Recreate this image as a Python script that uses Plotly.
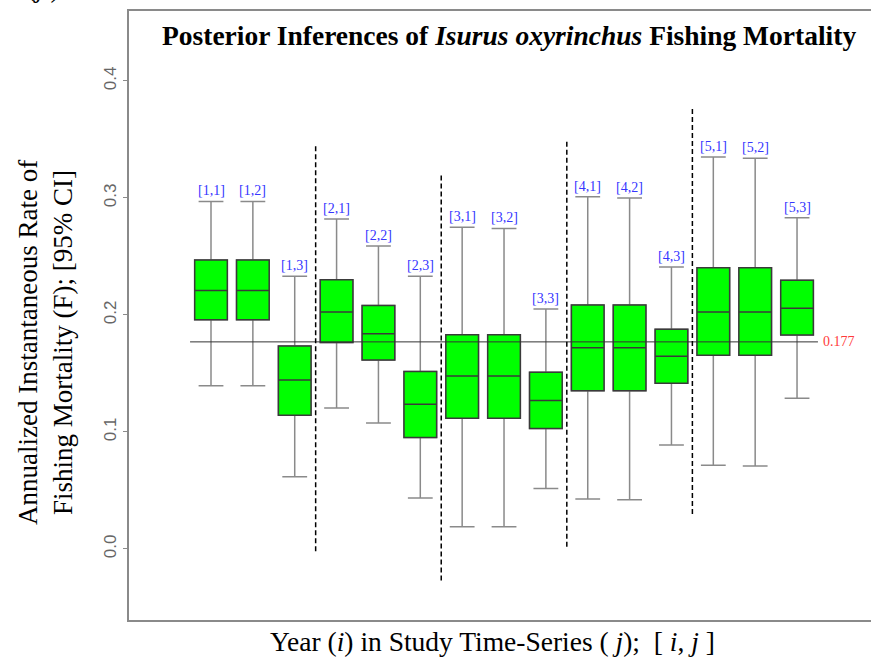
import plotly.graph_objects as go

# ---- data ----
labels = ["[1,1]", "[1,2]", "[1,3]", "[2,1]", "[2,2]", "[2,3]", "[3,1]", "[3,2]",
          "[3,3]", "[4,1]", "[4,2]", "[4,3]", "[5,1]", "[5,2]", "[5,3]"]
upper = [0.297, 0.297, 0.233, 0.282, 0.259, 0.233, 0.275, 0.274,
         0.205, 0.301, 0.300, 0.241, 0.335, 0.334, 0.283]
q3 = [0.247, 0.247, 0.1735, 0.230, 0.208, 0.1516, 0.183, 0.183,
      0.151, 0.2085, 0.2085, 0.1877, 0.2404, 0.2404, 0.2296]
median = [0.221, 0.221, 0.1444, 0.2026, 0.184, 0.1236, 0.1479, 0.1479,
          0.127, 0.172, 0.172, 0.1647, 0.2026, 0.2026, 0.2057]
q1 = [0.196, 0.196, 0.1143, 0.1765, 0.1615, 0.0952, 0.1117, 0.1117,
      0.103, 0.1353, 0.1353, 0.1416, 0.1655, 0.1655, 0.1829]
lower = [0.1396, 0.1396, 0.0618, 0.1205, 0.1077, 0.0436, 0.019, 0.019,
         0.0516, 0.0427, 0.042, 0.0889, 0.0715, 0.071, 0.1288]
ref_value = 0.177
sep_x = [3.5, 6.5, 9.5, 12.5]
sep_top = [0.345, 0.320, 0.348, 0.377]
sep_bottom = [-0.002, -0.027, 0.002, 0.030]
y_ticks = [0.0, 0.1, 0.2, 0.3, 0.4]

pos = list(range(1, len(labels) + 1))
SERIF = "Liberation Serif, Times New Roman, serif"
SANS = "Liberation Sans, Arial, sans-serif"

fig = go.Figure()

# whiskers (grey) with caps
fig.add_trace(go.Box(
    x=pos, q1=q1, median=median, q3=q3, lowerfence=lower, upperfence=upper,
    width=0.78, whiskerwidth=0.76, fillcolor="#00FF00",
    line=dict(color="#8a8a8a", width=1.5), boxpoints=False,
    hoverinfo="skip", showlegend=False))
# boxes (dark outline) on top
fig.add_trace(go.Box(
    x=pos, q1=q1, median=median, q3=q3, lowerfence=q1, upperfence=q3,
    width=0.78, whiskerwidth=0, fillcolor="#00FF00",
    line=dict(color="#3a3a3a", width=1.5), boxpoints=False,
    showlegend=False))

# reference line
fig.add_trace(go.Scatter(
    x=[0.5, 15.5], y=[ref_value, ref_value], mode="lines",
    line=dict(color="#333333", width=1), hoverinfo="skip", showlegend=False))

# separators
for sx, st, sb in zip(sep_x, sep_top, sep_bottom):
    fig.add_trace(go.Scatter(
        x=[sx, sx], y=[sb, st], mode="lines",
        line=dict(color="black", width=1.5, dash="5px,3px"),
        hoverinfo="skip", showlegend=False))

annotations = []
for p, lab, u in zip(pos, labels, upper):
    annotations.append(dict(
        x=p, y=u, text=lab, showarrow=False, yanchor="bottom", yshift=1,
        font=dict(family=SERIF, size=14, color="#3636ff")))
annotations.append(dict(
    x=15.58, y=ref_value, text=f"{ref_value:.3f}", showarrow=False,
    xanchor="left", yanchor="middle",
    font=dict(family=SERIF, size=14, color="#ff3b3b")))
# title
annotations.append(dict(
    xref="paper", yref="paper", x=(509 - 129) / 742, y=1 - (36 - 11) / 609,
    text="<b>Posterior Inferences of <i>Isurus oxyrinchus</i> Fishing Mortality</b>",
    showarrow=False, xanchor="center", yanchor="middle",
    font=dict(family=SERIF, size=27.5, color="black")))
# y-axis title
annotations.append(dict(
    xref="paper", yref="paper", x=(45 - 129) / 742, y=1 - (343 - 11) / 609,
    text="Annualized Instantaneous Rate of<br>Fishing Mortality (F); [95% CI]",
    showarrow=False, textangle=-90, xanchor="center", yanchor="middle",
    font=dict(family=SERIF, size=27, color="black")))
# x-axis title
annotations.append(dict(
    xref="paper", yref="paper", x=(492 - 129) / 742, y=-(641 - 620) / 609,
    text="Year (<i>i</i>) in Study Time-Series ( <i>j</i>);  [ <i>i</i>, <i>j</i> ]",
    showarrow=False, xanchor="center", yanchor="middle",
    font=dict(family=SERIF, size=27.5, color="black")))
# partially cropped text at the top-left edge
annotations.append(dict(
    xref="paper", yref="paper", x=(62 - 129) / 742, y=1 + (11 - 5) / 609,
    text="Individuals (<i>j</i> )", showarrow=False, xanchor="right",
    yanchor="bottom", font=dict(family=SERIF, size=27, color="black")))

fig.update_layout(
    width=871, height=658,
    margin=dict(l=129, r=0, t=11, b=38),
    paper_bgcolor="white", plot_bgcolor="white",
    boxmode="overlay",
    annotations=annotations,
    xaxis=dict(range=[-0.959, 16.767], showgrid=False, zeroline=False,
               showticklabels=False, ticks="", showline=True, mirror=True,
               linecolor="#8a8a8a", linewidth=1.5),
    yaxis=dict(range=[-0.0607, 0.4598], showgrid=False, zeroline=False,
               tickvals=y_ticks, ticktext=[f"{v:.1f}" for v in y_ticks],
               tickangle=-90, ticks="outside", ticklen=4, tickcolor="#8a8a8a",
               tickfont=dict(family=SANS, size=17, color="#666666"),
               showline=True, mirror=False, linecolor="#8a8a8a", linewidth=1.5),
)

fig.write_html("out.html", config={"displayModeBar": False},
               post_script="document.body.style.margin='0px';document.body.style.overflow='hidden';")
